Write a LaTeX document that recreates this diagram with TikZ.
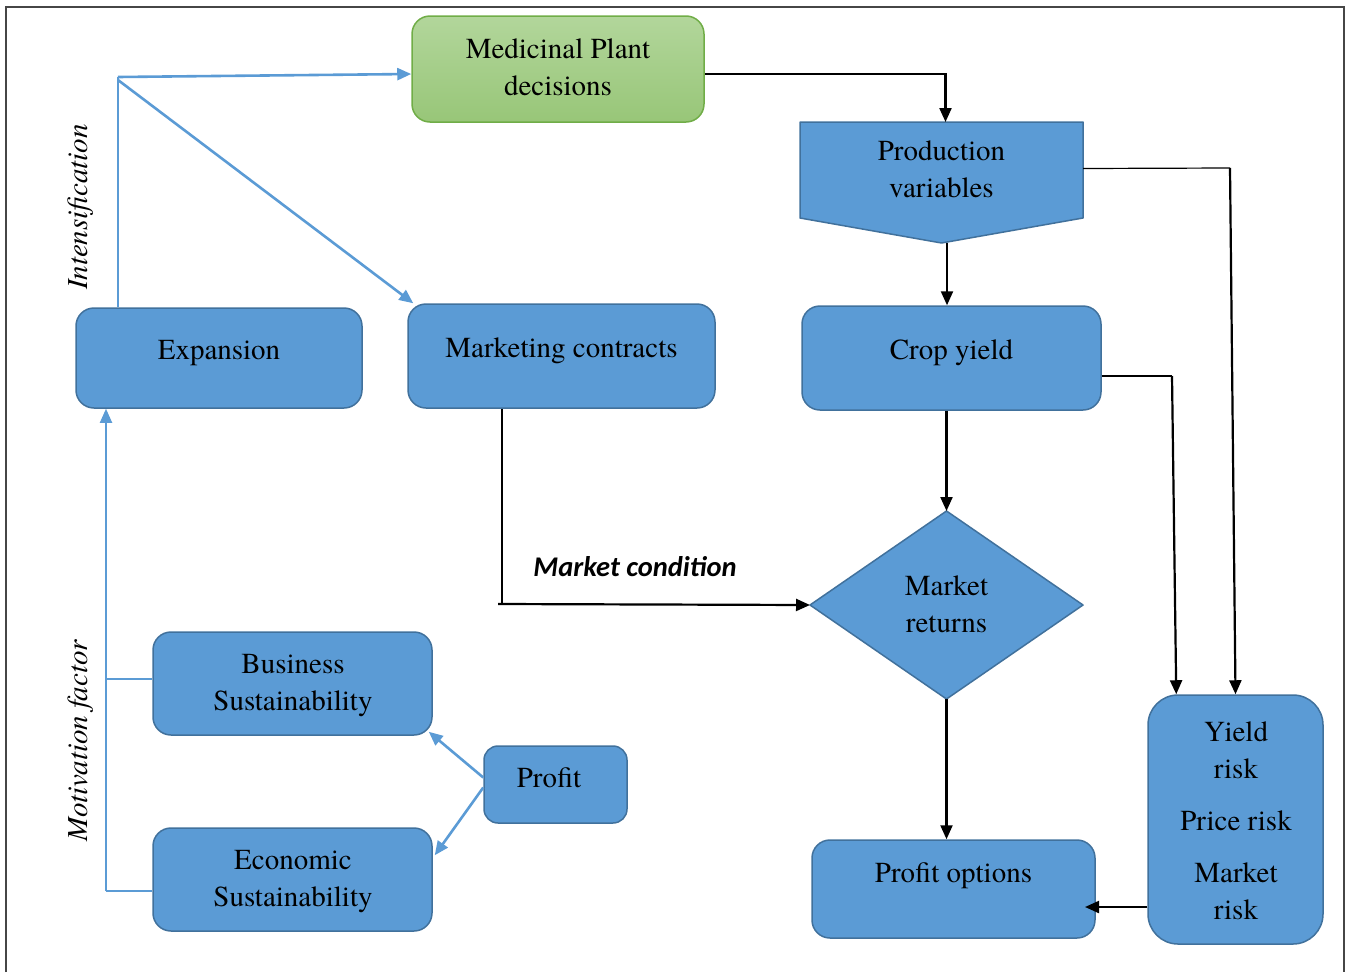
\documentclass[tikz,border=0pt]{standalone}
\usepackage{fontspec}
\setmainfont{texgyretermes-regular.otf}[ItalicFont=texgyretermes-italic.otf]
\newfontfamily\calfont{Carlito}
\usetikzlibrary{arrows.meta,calc}
\definecolor{boxblue}{RGB}{91,155,213}
\definecolor{boxedge}{RGB}{65,113,156}
\definecolor{lineblue}{RGB}{91,155,213}
\definecolor{greenL}{RGB}{178,214,155}
\definecolor{greenD}{RGB}{152,198,120}
\definecolor{greenE}{RGB}{112,173,71}
\definecolor{framec}{RGB}{70,70,70}
\begin{document}
\begin{tikzpicture}[x=1pt,y=-1pt,
  box/.style={draw=boxedge, fill=boxblue, line width=1.5pt, rounded corners=18pt, inner sep=0pt},
  ghost/.style={inner sep=0pt, outer sep=0pt},
  txt/.style={align=center, font=\rmfamily\fontsize{29}{37}\selectfont, inner sep=0pt, text=black},
  vtxt/.style={font=\rmfamily\fontsize{29}{37}\selectfont\itshape, inner sep=0pt, rotate=90},
  bl/.style={draw=lineblue, line width=2.6pt},
  blt/.style={draw=lineblue, line width=1.8pt},
  blarr/.style={bl, -{Triangle[length=14pt,width=12pt]}},
  blk/.style={draw=black, line width=2.2pt, -{Triangle[length=14pt,width=12pt]}},
  thin/.style={draw=black, line width=1.2pt}
]
\useasboundingbox (0,0) rectangle (1351,972);
\draw[framec, line width=2pt] (6,972) -- (6,7) -- (1344,7) -- (1344,972);

% nodes
\node[box, draw=greenE, top color=greenL, bottom color=greenD, minimum width=292, minimum height=106] (med) at (558,69) {};
\node[txt] (medT) at (558,67) {Medicinal Plant\\decisions};

\node[ghost, minimum width=283, minimum height=121] (prod) at (941.5,182.5) {};
\draw[draw=boxedge, fill=boxblue, line width=1.5pt, line join=round]
  (prod.north west) -- (prod.north east) -- ($(prod.south east)+(0,-25)$) -- (prod.south)
  -- ($(prod.south west)+(0,-25)$) -- cycle;
\node[txt] (prodT) at (941.5,169) {Production\\variables};

\node[box, minimum width=299, minimum height=104] (crop) at (951.5,358) {};
\node[txt] (cropT) at (951.5,353) {Crop yield};

\node[box, minimum width=286, minimum height=100] (exp) at (219,358) {};
\node[txt] (expT) at (219,353) {Expansion};

\node[box, minimum width=307, minimum height=104] (mc) at (561.5,356) {};
\node[txt] (mcT) at (561.5,351) {Marketing contracts};

\node[ghost, minimum width=273, minimum height=188] (mr) at (946.5,605) {};
\draw[draw=boxedge, fill=boxblue, line width=1.5pt, line join=round]
  (mr.north) -- (mr.east) -- (mr.south) -- (mr.west) -- cycle;
\node[txt] (mrT) at (946.5,604) {Market\\returns};

\node[box, minimum width=279, minimum height=103] (bus) at (292.5,683.5) {};
\node[txt] (busT) at (293,686) {Business\\Sustainability};

\node[box, minimum width=279, minimum height=103] (eco) at (292.5,879.5) {};
\node[txt] (ecoT) at (293,882) {Economic\\Sustainability};

\node[box, rounded corners=14pt, minimum width=143, minimum height=77] (prof) at (555.5,784.5) {};
\node[txt] (profT) at (549,778) {Profit};

\node[box, minimum width=283, minimum height=98] (po) at (953.5,889) {};
\node[txt] (poT) at (953.5,876) {Profit options};

\node[box, rounded corners=30pt, minimum width=175, minimum height=249] (risk) at (1235.5,819.5) {};
\node[txt] (riskT) at (1236,821) {Yield\\risk\\[15pt]Price risk\\[15pt]Market\\risk};

\node[vtxt] (intT) at (81,207) {Intensification};
\node[vtxt] (motT) at (81,741) {Motivation factor};
\node[font=\calfont\fontsize{28.5}{32}\selectfont\bfseries\itshape, inner sep=0pt] (mcond) at (635,567) {Market condition};

% blue connectors (top)
\coordinate (ib) at (118,77);
\draw[bl] (exp.north -| ib) -- (ib);
\draw[blarr] (ib) -- ($(med.west)+(0,5)$);
\draw[blarr] ($(ib)+(0,3)$) -- ($(mc.north west)+(6,0)$);

% black connectors
\draw[blk] ($(med.east)+(0,5)$) -| ($(prod.north)+(4,0)$);
\coordinate (pt) at (947,243);
\draw[blk] (pt) -- (pt |- crop.north);
\coordinate (c1) at (1230,168);
\draw[thin] ($(prod.east)+(0,-14)$) -- (c1);
\draw[blk] (c1) -- (risk.north);
\coordinate (c2) at (1172,376);
\draw[thin] (crop.east |- c2) -- (c2);
\draw[blk] (c2) -- ($(risk.north west)+(29,0)$);
\draw[blk] (crop.south -| mr.north) -- (mr.north);
\coordinate (c3) at (502,604);
\draw[thin] (mc.south -| c3) -- (c3);
\draw[blk] ($(c3)+(-4,0)$) -- (mr.west);
\draw[blk] (mr.south) -- (mr.south |- po.north);
\coordinate (c4) at (1085,907);
\draw[blk] (risk.west |- c4) -- (c4);

% blue connectors (bottom)
\coordinate (mb) at (106,891);
\draw[blt, -{Triangle[length=14pt,width=12pt]}] (mb) -- (mb |- exp.south);
\draw[blt] (mb) -- (mb -| eco.west);
\coordinate (mt) at (106,679);
\draw[blt] (mt) -- (mt -| bus.west);
\draw[blarr] ($(prof.west)+(0,-7)$) -- ($(bus.south east)+(-4,-4)$);
\draw[blarr] ($(prof.west)+(0,3)$) -- ($(eco.north east)+(2,28)$);
\end{tikzpicture}
\end{document}
